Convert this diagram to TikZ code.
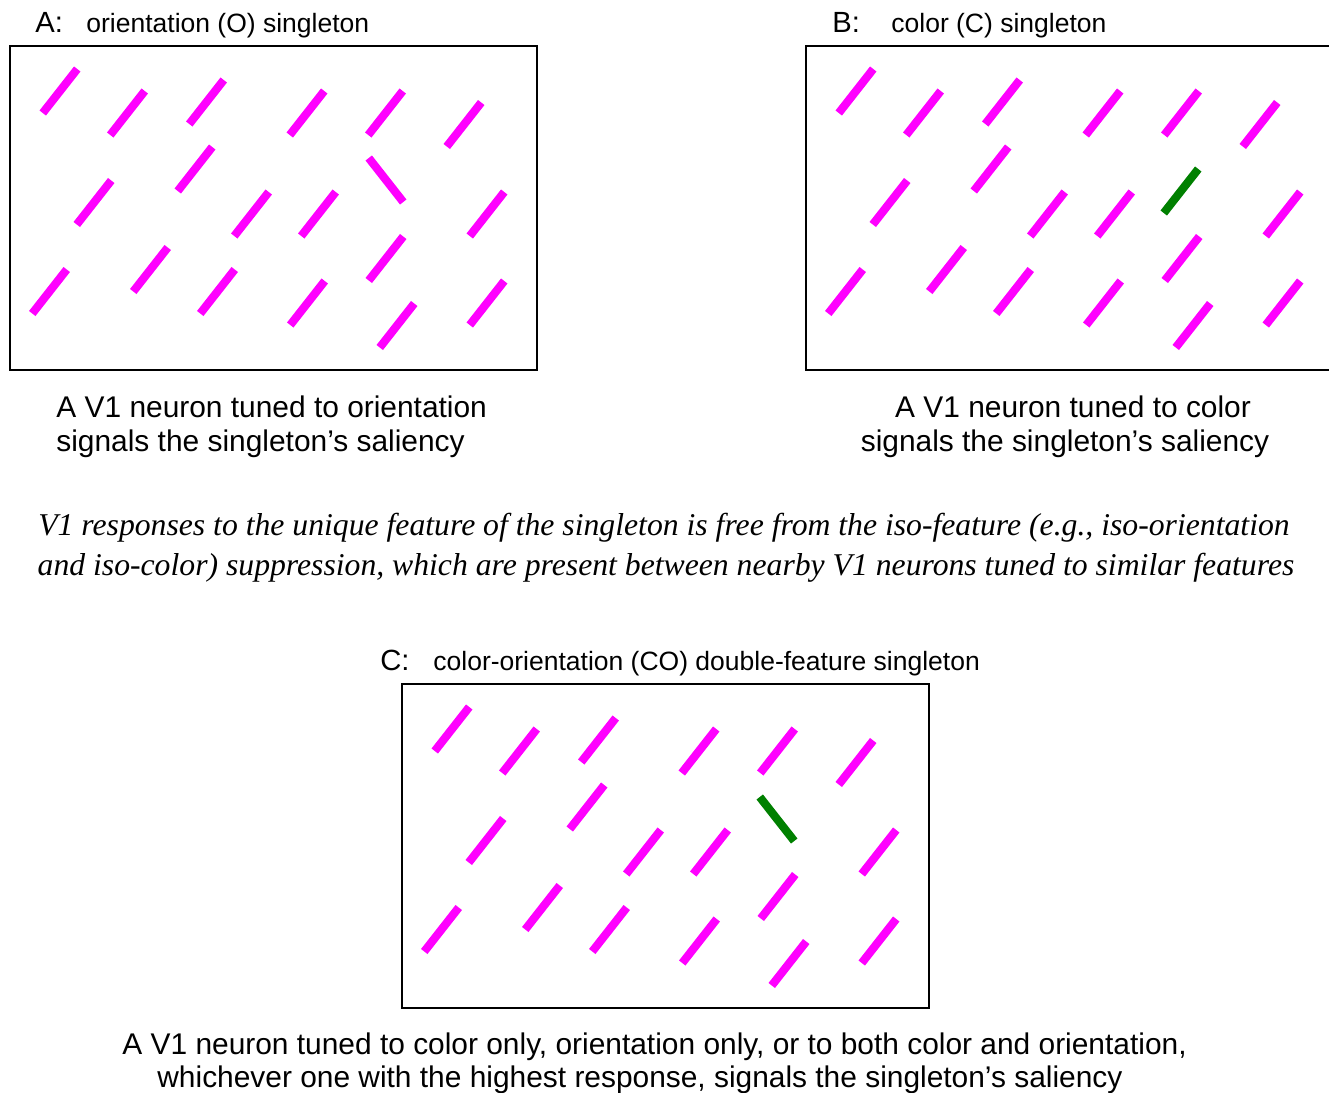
\documentclass[tikz,border=0pt]{standalone}
\usepackage{fontspec}
\setmainfont{Liberation Sans}
\newfontfamily\remarkfont{Liberation Serif}
\usepackage{xcolor}
\usepackage{tikz}
\definecolor{SlitMag}{HTML}{FF00FF}
\definecolor{SlitGreen}{HTML}{008000}
\tikzset{
  slit/.style={SlitMag,line width=4.1pt},
  oddslit/.style={SlitGreen,line width=4.1pt},
  panelbox/.style={black,line width=1.35pt},
  ttl/.style={anchor=base west,inner sep=0pt,font=\fontsize{13.25}{16}\selectfont},
  ltr/.style={anchor=base west,inner sep=0pt,font=\fontsize{14.6}{17}\selectfont},
  capline/.style={inner sep=0pt,font=\fontsize{14.95}{17}\selectfont},
  remark/.style={anchor=base,inner sep=0pt,font=\remarkfont\itshape\fontsize{15.85}{20}\selectfont}
}
% the 18 background bars, centres in panel-A pixels
\newcommand{\slitfield}{%
  \foreach \cx/\cy in {60/91,127.5/113,206.5/102,307/113,385.5/113,464/124.5,
      94/202.5,195/169,251.5/214,318.5/214,487/214,
      49.5/291.5,150.5/269.5,217.5/291.5,307.5/303,386/258.5,397/325.5,487/303}
    {\draw[slit] (\cx-17.25,\cy+22) -- (\cx+17.25,\cy-22);}%
  \draw[panelbox] (10,46) rectangle (537,370);%
}

\begin{document}
\begin{tikzpicture}[x=0.5pt,y=-0.5pt]
\path[use as bounding box] (0,0) rectangle (1329,1093);
\clip (0,0) rectangle (1329,1093);
\fill[white] (0,0) rectangle (1329,1093);

% panel A
\slitfield
\draw[slit] (386-17.25,180-22) -- (386+17.25,180+22);
\node[ltr] (ltrA) at (35,32) {A:};
\node[ttl] (ttlA) at (86,32) {orientation (O) singleton};
\node[capline,anchor=base west] (capA1) at (56,417) {A V1 neuron tuned to orientation};
\node[capline,anchor=base west] (capA2) at (56,451) {signals the singleton’s saliency};

% panel B
\begin{scope}[xshift=398pt]
\slitfield
\draw[oddslit] (385-17.25,191+22) -- (385+17.25,191-22);
\end{scope}
\node[ltr] (ltrB) at (832,32) {B:};
\node[ttl] (ttlB) at (891,32) {color (C) singleton};
\node[capline,anchor=base] (capB1) at (1073,417) {A V1 neuron tuned to color};
\node[capline,anchor=base] (capB2) at (1065,451) {signals the singleton’s saliency};

% note between the rows
\node[remark] (noteA) at (664,535) {V1 responses to the unique feature of the singleton is free from the iso-feature (e.g., iso-orientation};
\node[remark] (noteB) at (666,575) {and iso-color) suppression, which are present between nearby V1 neurons tuned to similar features};

% panel C
\begin{scope}[xshift=196pt,yshift=-319pt]
\slitfield
\draw[oddslit] (385-17.25,181-22) -- (385+17.25,181+22);
\end{scope}
\node[ltr] (ltrC) at (380,670) {C:};
\node[ttl] (ttlC) at (433,670) {color-orientation (CO) double-feature singleton};
\node[capline,anchor=base west] (capC1) at (122,1054) {A V1 neuron tuned to color only, orientation only, or to both color and orientation,};
\node[capline,anchor=base west] (capC2) at (157,1087) {whichever one with the highest response, signals the singleton’s saliency};
\end{tikzpicture}
\end{document}
